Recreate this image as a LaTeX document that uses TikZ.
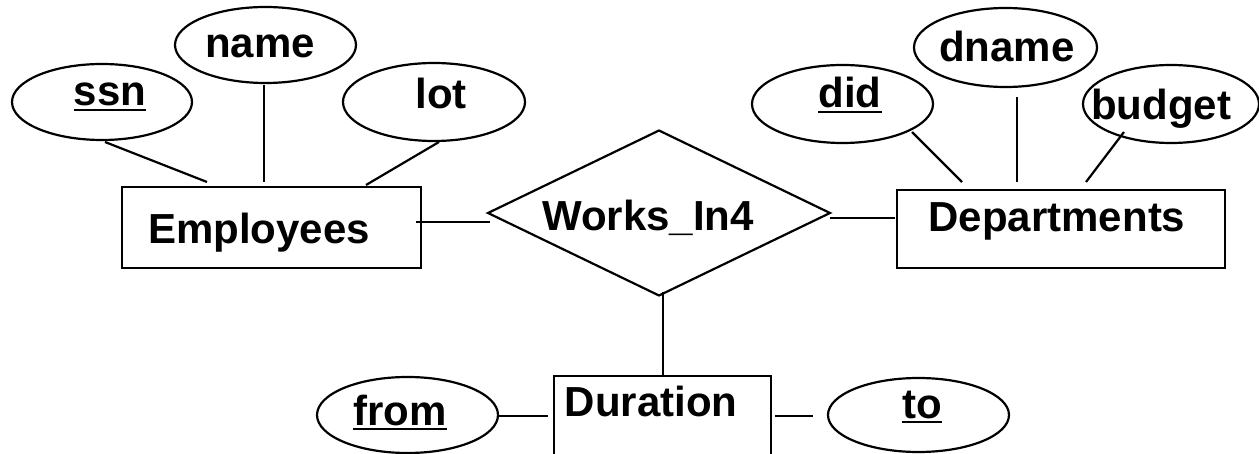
\documentclass[tikz,border=0pt]{standalone}
\usepackage{fontspec}
\setmainfont{Liberation Sans}
\usetikzlibrary{shapes.geometric,calc}

\tikzset{
  er/.style={draw=black, line width=2.2pt, inner sep=0pt, outer sep=0pt},
  entity/.style={er, rectangle},
  relation/.style={er, diamond},
  attr/.style={er, ellipse},
  lbl/.style={inner sep=0pt, anchor=base, font=\fontsize{42}{48}\selectfont\bfseries},
  link/.style={line width=2.2pt, line cap=butt},
  keyline/.style={line width=2.6pt}
}

\begin{document}
\begin{tikzpicture}[x=1pt, y=-1pt]
  \useasboundingbox (0,0) rectangle (1259,454);

  % entity sets and the relationship
  \node[entity, minimum width=299pt, minimum height=81pt] (emp) at (271.5,227.5) {};
  \node[entity, minimum width=328pt, minimum height=78pt] (dep) at (1061,229) {};
  \node[entity, minimum width=217pt, minimum height=84pt] (dur) at (662.5,418) {};
  \node[relation, minimum width=342pt, minimum height=165pt] (rel) at (659,213) {};

  % attributes
  \node[attr, minimum width=180pt, minimum height=76pt] (ssn)    at (102,102) {};
  \node[attr, minimum width=181pt, minimum height=76pt] (name)   at (265.5,45) {};
  \node[attr, minimum width=182pt, minimum height=78pt] (lot)    at (434,102) {};
  \node[attr, minimum width=181pt, minimum height=78pt] (did)    at (842.5,104) {};
  \node[attr, minimum width=183pt, minimum height=79pt] (dname)  at (1005.5,47.5) {};
  \node[attr, minimum width=176pt, minimum height=78pt] (budget) at (1171,104) {};
  \node[attr, minimum width=181pt, minimum height=76pt] (from)   at (407.5,415) {};
  \node[attr, minimum width=181pt, minimum height=74pt] (to)     at (918.5,415) {};

  % labels
  \node[lbl] (tEmp)  at (259,244)  {Employees};
  \node[lbl] (tDep)  at (1057,232) {Departments};
  \node[lbl] (tDur)  at (651,417)  {Duration};
  \node[lbl] (tRel)  at (648,231)  {Works\_In4};
  \node[lbl] (tSsn)  at (110,106)  {ssn};
  \node[lbl] (tName) at (260,58)   {name};
  \node[lbl] (tLot)  at (441,109)  {lot};
  \node[lbl] (tDid)  at (850,108)  {did};
  \node[lbl] (tDname) at (1007,62) {dname};
  \node[lbl] (tBudget) at (1161,120) {budget};
  \node[lbl] (tFrom) at (400,425)  {from};
  \node[lbl] (tTo)   at (922,418)  {to};

  % key attributes are underlined
  \foreach \k in {tSsn,tDid,tFrom,tTo}
    \draw[keyline] ([yshift=-4pt]\k.base west) -- ([yshift=-4pt]\k.base east);

  % attribute links of Employees
  \draw[link] ($(ssn.south)+(3,2)$)     -- ($(emp.north west)+(85,-5)$);
  \draw[link] ($(name.south)+(-1.5,2)$) -- ($(emp.north west)+(142,-5)$);
  \draw[link] ($(lot.south)+(5,1)$)     -- ($(emp.north east)+(-55,-2)$);

  % attribute links of Departments
  \draw[link] ($(did.south)+(69.5,-11)$)   -- ($(dep.north west)+(65,-8)$);
  \draw[link] ($(dname.south)+(11.5,10)$)  -- ($(dep.north west)+(120,-8)$);
  \draw[link] ($(budget.south)+(-47,-11)$) -- ($(dep.north west)+(189,-8)$);

  % relationship links
  \draw[link] ($(emp.east)+(-5,-5.5)$) -- ($(rel.west)+(2,9)$);
  \draw[link] ($(rel.east)+(0,5)$)     -- ($(dep.west)+(-2,-11)$);
  \draw[link] ($(rel.south)+(4,-3)$)   -- ($(dur.north)+(0.5,0)$);

  % attribute links of Duration
  \draw[link] ($(from.east)+(0,1)$) -- ($(dur.west)+(-6,-2)$);
  \draw[link] ($(dur.east)+(4,-2)$) -- ($(to.west)+(-15,1)$);
\end{tikzpicture}
\end{document}
